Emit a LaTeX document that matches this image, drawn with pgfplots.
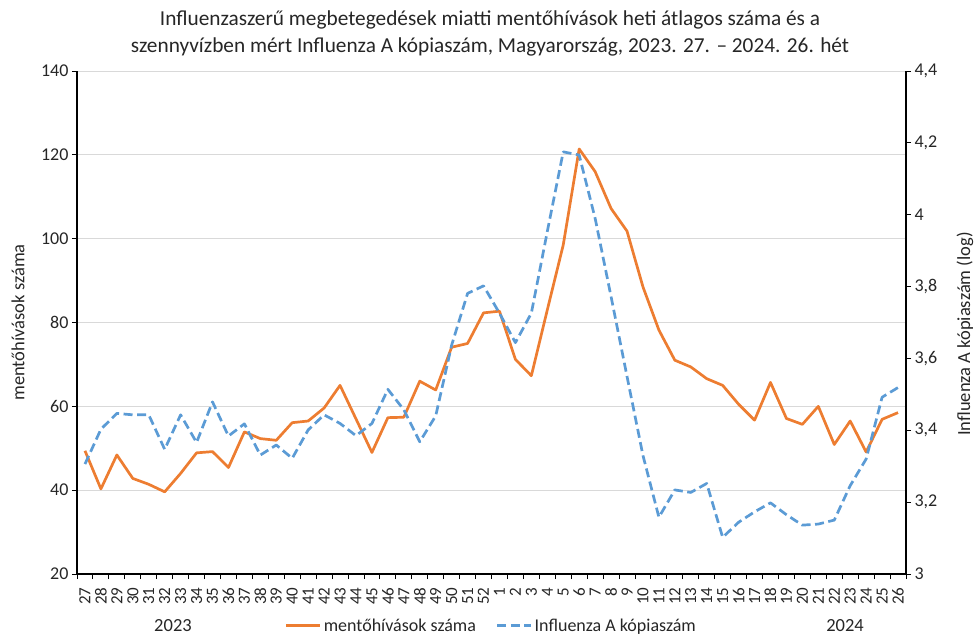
\documentclass[border=0pt]{standalone}
\usepackage{pgfplots}
\pgfplotsset{compat=1.18}
\usepackage{pgfplotstable}
\usepackage{fontspec}
\setmainfont{Carlito}
\definecolor{orng}{HTML}{ED7D31}
\definecolor{blu}{HTML}{5B9BD5}
\definecolor{gridc}{HTML}{D9D9D9}
\definecolor{txt}{HTML}{262626}

\pgfplotstableread{
i ment infl
0 49.4 3.306
1 40.3 3.403
2 48.4 3.447
3 42.8 3.443
4 41.4 3.443
5 39.6 3.347
6 44.0 3.443
7 48.9 3.366
8 49.2 3.479
9 45.4 3.384
10 53.9 3.418
11 52.3 3.331
12 51.9 3.359
13 56.1 3.322
14 56.5 3.401
15 59.6 3.443
16 65.0 3.419
17 57.0 3.385
18 49.0 3.419
19 57.3 3.514
20 57.4 3.457
21 66.0 3.368
22 63.9 3.440
23 74.1 3.637
24 75.0 3.781
25 82.3 3.802
26 82.7 3.726
27 71.2 3.644
28 67.3 3.726
29 83.0 3.953
30 98.5 4.175
31 121.4 4.166
32 116.0 3.990
33 107.2 3.772
34 101.8 3.550
35 88.5 3.330
36 78.2 3.158
37 71.0 3.234
38 69.4 3.227
39 66.6 3.252
40 65.0 3.102
41 60.5 3.144
42 56.7 3.173
43 65.7 3.198
44 57.1 3.165
45 55.7 3.136
46 60.0 3.139
47 50.9 3.150
48 56.5 3.246
49 49.1 3.320
50 56.9 3.492
51 58.5 3.519
}\data

\pgfplotsset{
  common/.style={
    scale only axis, width=829bp, height=503bp,
    at={(0,0)}, anchor=south west,
    xmin=-0.5, xmax=51.5,
    tick align=outside,
    major tick length=5bp, minor tick length=5bp,
    tick style={black, line width=0.9bp},
    axis line style={black, line width=1.2bp},
    /pgf/number format/assume math mode=true,
    tick label style={font=\fontsize{18bp}{22bp}\selectfont, text=txt},
    label style={font=\fontsize{18.5bp}{22bp}\selectfont, text=txt},
  }
}

\begin{document}
\begin{tikzpicture}
\useasboundingbox (-77bp,-61bp) rectangle (899bp,574bp);
\begin{axis}[common,
  axis y line*=left, axis x line*=bottom,
  ymin=20, ymax=140, ytick={20,40,60,80,100,120,140},
  ymajorgrids, grid style={gridc, line width=0.9bp},
  xtick={0,...,51},
  xticklabels={27,28,29,30,31,32,33,34,35,36,37,38,39,40,41,42,43,44,45,46,47,48,49,50,51,52,1,2,3,4,5,6,7,8,9,10,11,12,13,14,15,16,17,18,19,20,21,22,23,24,25,26},
  major x tick style={draw=none},
  minor xtick={-0.5,0.5,...,51.5},
  x tick label style={rotate=90, anchor=east, font=\fontsize{17bp}{20bp}\selectfont},
  xticklabel shift=5bp,
  ylabel={mentőhívások száma},
  ylabel style={at={(axis description cs:-0.071,0.5)}, anchor=center},
]
\addplot[orng, line width=2.7bp, line join=round, no marks] table[x=i, y=ment] {\data};
\end{axis}
\begin{axis}[common,
  axis y line*=right, axis x line=none,
  ymin=3, ymax=4.4, ytick={3,3.2,3.4,3.6,3.8,4,4.2,4.4},
  yticklabel style={/pgf/number format/.cd, use comma, fixed, precision=1},
  ylabel={Influenza A kópiaszám (log)},
  ylabel style={at={(axis description cs:1.071,0.477)}, anchor=center},
  legend columns=2,
  legend style={at={(axis description cs:0.5,-0.103)}, anchor=center, draw=none, fill=none,
    font=\fontsize{18bp}{22bp}\selectfont, text=txt,
    /tikz/every even column/.append style={column sep=18bp}},
  legend image code/.code={\draw[#1] (0bp,0bp) -- (34bp,0bp);},
]
\addlegendimage{orng, line width=2.7bp}
\addlegendentry{mentőhívások száma}
\addplot[blu, line width=2.7bp, dash pattern=on 9bp off 4.5bp, line join=round, no marks] table[x=i, y=infl] {\data};
\addlegendentry{Influenza A kópiaszám}
\end{axis}
\node[font=\fontsize{18.5bp}{22bp}\selectfont, text=txt] at (96bp,-52bp) {2023};
\node[font=\fontsize{18.5bp}{22bp}\selectfont, text=txt] at (768bp,-52bp) {2024};
\node[align=center, font=\fontsize{21.3bp}{27bp}\selectfont, text=txt] at (413bp,541bp) {Influenzaszerű megbetegedések miatti mentőhívások heti átlagos száma és a\\szennyvízben mért Influenza A kópiaszám, Magyarország, 2023. 27. – 2024. 26. hét};
\end{tikzpicture}
\end{document}
